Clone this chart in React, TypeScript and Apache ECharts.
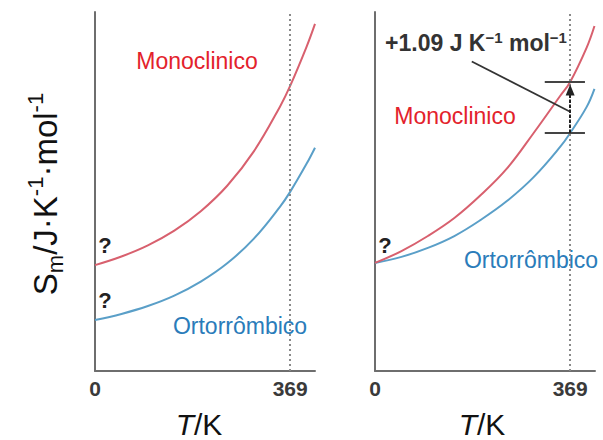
import React, { useEffect, useRef } from "react";
import * as echarts from "echarts";

// Temperature samples (K)
const leftT = [0, 50, 100, 150, 200, 250, 300, 350, 369, 400, 416];
const rightT = [0, 50, 100, 150, 200, 250, 300, 350, 369, 400, 415];
// Molar entropy (arbitrary units, axis 0–100)
const leftMono = [29.5, 31.9, 35.0, 39.1, 44.5, 51.6, 61.1, 73.7, 79.4, 90.3, 96.7];
const leftOrto = [14.2, 15.9, 18.1, 21.0, 24.9, 30.0, 36.8, 45.8, 49.9, 57.7, 62.2];
const rightMono = [30.1, 33.4, 37.6, 42.6, 49.0, 56.5, 66.3, 76.6, 80.5, 90.0, 96.1];
const rightOrto = [30.1, 31.8, 34.3, 37.6, 42.1, 47.4, 54.0, 62.4, 66.3, 73.5, 78.6];
const xTicks = [0, 369];
const transitionT = 369;
const xMax = 416;
const yMax = 100;
// annotation (data units)
const barT = [321, 397];
const pointerFrom = [183, 86.2];
const pointerTo = [369, 72.2];

const FONT = "'Liberation Sans', Arial, Helvetica, sans-serif";
const RED_LINE = "#d8606e";
const BLUE_LINE = "#5a9fc8";
const RED_TEXT = "#e3222b";
const BLUE_TEXT = "#2a7cba";
const DARK = "#333333";
const AXIS = "#6e6e6e";

function zip(xs: number[], ys: number[]) {
  return xs.map((x, i) => [x, ys[i]]);
}

function idx(arr: number[], v: number) {
  return arr.indexOf(v);
}

export default function App() {
  const ref = useRef<HTMLDivElement>(null);
  useEffect(() => {
    if (!ref.current) return;
    const chart = echarts.init(ref.current, null, { renderer: "svg" });

    const xAxisBase = (gridIndex: number) => ({
      type: "value",
      gridIndex,
      min: 0,
      max: xMax,
      axisLine: { show: true, lineStyle: { color: AXIS, width: 2 } },
      axisTick: { show: false },
      splitLine: { show: false },
      axisLabel: {
        customValues: xTicks,
        color: "#3a3a3a",
        fontSize: 21,
        fontWeight: "bold",
        fontFamily: FONT,
        margin: 7,
      },
    });
    const yAxisBase = (gridIndex: number) => ({
      type: "value",
      gridIndex,
      min: 0,
      max: yMax,
      axisLine: { show: true, lineStyle: { color: AXIS, width: 2 } },
      axisTick: { show: false },
      splitLine: { show: false },
      axisLabel: { show: false },
    });

    const dotted = {
      silent: true,
      symbol: "none",
      label: { show: false },
      lineStyle: { type: [2, 3], color: "#8a8a8a", width: 2 },
      data: [{ xAxis: transitionT }],
    };

    const ri = idx(rightT, transitionT);
    const mono369 = rightMono[ri];
    const orto369 = rightOrto[ri];

    const curve = (name: string, xi: number, xs: number[], ys: number[], color: string, extra: any = {}) => ({
      type: "line",
      name,
      xAxisIndex: xi,
      yAxisIndex: xi,
      data: zip(xs, ys),
      smooth: 0.4,
      showSymbol: false,
      symbol: "none",
      lineStyle: { color, width: 2 },
      itemStyle: { color },
      ...extra,
    });

    const textStyle = (text: string, fill: string, size: number, extra: any = {}) => ({
      text,
      fill,
      fontSize: size,
      fontFamily: FONT,
      align: "center",
      verticalAlign: "middle",
      ...extra,
    });

    const tkLabel = (x: number, y: number) => ({
      type: "text",
      x,
      y,
      style: {
        text: "{i|T}{n|/K}",
        align: "center",
        verticalAlign: "middle",
        rich: {
          i: { fontSize: 30, lineHeight: 30, fontStyle: "italic", fontFamily: FONT, fill: "#111" },
          n: { fontSize: 30, lineHeight: 30, fontFamily: FONT, fill: "#111" },
        },
      },
    });

    chart.setOption({
      animation: false,
      backgroundColor: "#ffffff",
      grid: [
        { left: 95, top: 12, width: 220, height: 359 },
        { left: 375, top: 12, width: 220, height: 359 },
      ],
      xAxis: [xAxisBase(0), xAxisBase(1)],
      yAxis: [yAxisBase(0), yAxisBase(1)],
      series: [
        curve("Monoclinico", 0, leftT, leftMono, RED_LINE),
        curve("Ortorrômbico", 0, leftT, leftOrto, BLUE_LINE, { markLine: dotted }),
        curve("Ortorrômbico", 1, rightT, rightOrto, BLUE_LINE, { markLine: dotted }),
        curve("Monoclinico", 1, rightT, rightMono, RED_LINE, {
          markLine: {
            silent: true,
            symbol: "none",
            label: { show: false },
            lineStyle: { type: "solid", color: "#444", width: 2 },
            data: [
              [{ coord: [barT[0], mono369] }, { coord: [barT[1], mono369] }],
              [{ coord: [barT[0], orto369] }, { coord: [barT[1], orto369] }],
              [
                { coord: pointerFrom, lineStyle: { width: 1.8, color: "#333" } },
                { coord: pointerTo },
              ],
              [
                {
                  coord: [transitionT, orto369],
                  symbol: "none",
                  lineStyle: { type: [3, 2], color: "#222", width: 2 },
                },
                { coord: [transitionT, mono369 - 2.2], symbol: "triangle", symbolSize: [9, 11] },
              ],
            ],
          },
        }),
      ],
      graphic: [
        {
          type: "text",
          x: 45,
          y: 194,
          rotation: Math.PI / 2,
          style: {
            text: "{a|S}{sub|m}{a|/J·K}{sup|-1}{a|·mol}{sup|-1}",
            fill: "#111",
            fontFamily: FONT,
            align: "center",
            verticalAlign: "middle",
            rich: {
              a: { fontSize: 33, lineHeight: 42, fontFamily: FONT, fill: "#111" },
              sub: { fontSize: 22, lineHeight: 22, verticalAlign: "bottom", fontFamily: FONT, fill: "#111" },
              sup: { fontSize: 22, lineHeight: 24, verticalAlign: "top", fontFamily: FONT, fill: "#111" },
            },
          },
        },
        tkLabel(199, 424),
        tkLabel(482, 424),
        { type: "text", x: 197, y: 61, style: textStyle("Monoclinico", RED_TEXT, 23) },
        { type: "text", x: 455, y: 116, style: textStyle("Monoclinico", RED_TEXT, 23) },
        {
          type: "text",
          x: 240,
          y: 326,
          style: textStyle("Ortorrômbico", BLUE_TEXT, 23, { backgroundColor: "#fff", padding: [14, 0] }),
        },
        {
          type: "text",
          x: 531,
          y: 260,
          style: textStyle("Ortorrômbico", BLUE_TEXT, 23, { backgroundColor: "#fff", padding: [12, 0] }),
        },
        { type: "text", x: 105, y: 245, style: textStyle("?", "#222", 22, { fontWeight: "bold" }) },
        { type: "text", x: 105, y: 300, style: textStyle("?", "#222", 22, { fontWeight: "bold" }) },
        { type: "text", x: 385, y: 245, style: textStyle("?", "#222", 22, { fontWeight: "bold" }) },
        {
          type: "text",
          x: 476,
          y: 43,
          style: {
            text: "{a|+1.09 J K}{s|−1}{a| mol}{s|−1}",
            align: "center",
            verticalAlign: "middle",
            rich: {
              a: { fontSize: 23, fontWeight: "bold", fontFamily: FONT, fill: DARK, lineHeight: 26 },
              s: { fontSize: 15, fontWeight: "bold", fontFamily: FONT, fill: DARK, lineHeight: 14, verticalAlign: "top" },
            },
          },
        },
      ],
    });
    return () => chart.dispose();
  }, []);
  return (
    <div
      ref={ref}
      style={{ position: "absolute", left: 0, top: 0, width: 603, height: 440, background: "#fff" }}
    />
  );
}
